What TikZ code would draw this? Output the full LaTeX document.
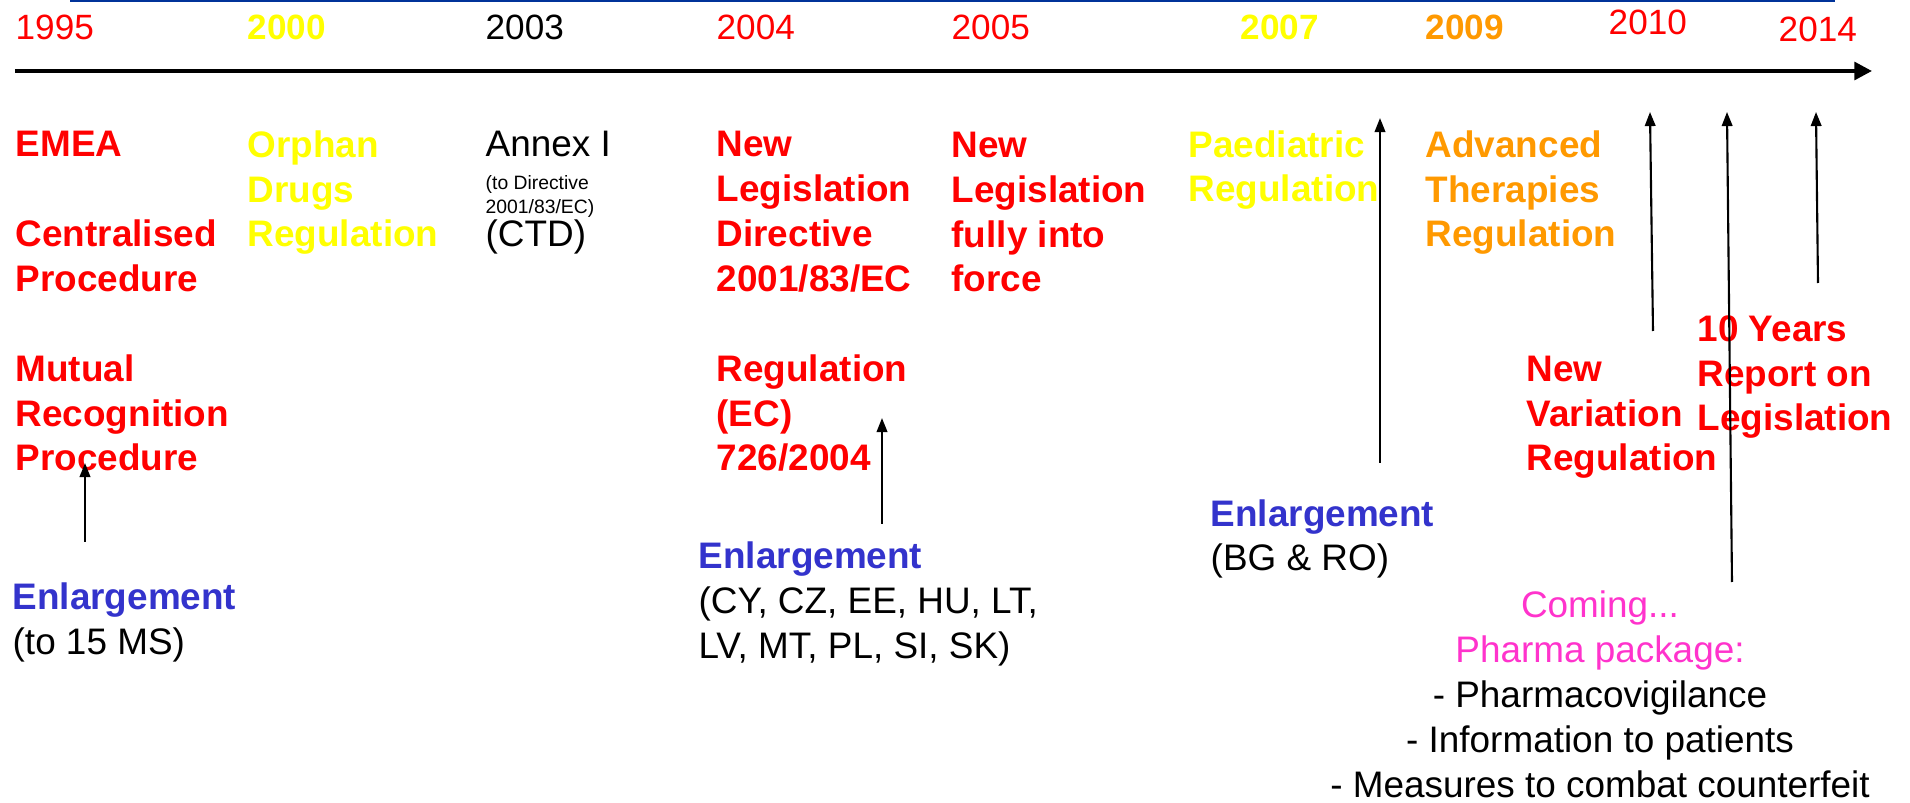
\documentclass[tikz,border=0pt]{standalone}
\usepackage{fontspec}
\setmainfont{Liberation Sans}
\usetikzlibrary{arrows.meta}
\definecolor{eured}{HTML}{FF0000}
\definecolor{euyellow}{HTML}{FFFF00}
\definecolor{euorange}{HTML}{FF9900}
\definecolor{eublue}{HTML}{3333CC}
\definecolor{eupink}{HTML}{FF33CC}
\definecolor{topblue}{HTML}{003399}
\tikzset{
	yearstyle/.style={anchor=base west, inner sep=0pt, font=\fontsize{10}{12}\selectfont},
	boldyearstyle/.style={yearstyle, font=\bfseries\fontsize{10}{12}\selectfont},
	eventstyle/.style={anchor=base west, inner sep=0pt, align=left, font=\bfseries\fontsize{10.5}{12.8}\selectfont},
	notestyle/.style={anchor=base west, inner sep=0pt, align=left, font=\fontsize{10.5}{12.8}\selectfont},
	smallstyle/.style={anchor=base west, inner sep=0pt, align=left, font=\fontsize{5.5}{7}\selectfont},
	uparrow/.style={-{Triangle[length=4pt,width=3pt]}, line width=0.6pt}
}

\begin{document}
\begin{tikzpicture}
	\useasboundingbox (0,0) rectangle (19.10,8.02);
	\draw[topblue, line width=0.6pt] (0.70,8.01)--(18.35,8.01);
	% time axis
	\coordinate (axisstart) at (0.15,7.31);
	\coordinate (axisend) at (18.72,7.31);
	\draw[line width=1.1pt, -{Triangle[length=5pt,width=5pt]}] (axisstart)--(axisend);
	% years
	\node[yearstyle, eured] (y1995) at (0.15,7.62) {1995};
	\node[boldyearstyle, euyellow] (y2000) at (2.47,7.62) {2000};
	\node[yearstyle] (y2003) at (4.85,7.62) {2003};
	\node[yearstyle, eured] (y2004) at (7.16,7.62) {2004};
	\node[yearstyle, eured] (y2005) at (9.51,7.62) {2005};
	\node[boldyearstyle, euyellow] (y2007) at (12.40,7.62) {2007};
	\node[boldyearstyle, euorange] (y2009) at (14.25,7.62) {2009};
	\node[yearstyle, eured] (y2010) at (16.08,7.67) {2010};
	\node[yearstyle, eured] (y2014) at (17.78,7.60) {2014};
	% events (placed at the baseline of their last line)
	\node[eventstyle, eured] (emea) at (0.15,3.31) {EMEA\\[12.8pt]Centralised\\Procedure\\[12.8pt]Mutual\\Recognition\\Procedure};
	\node[eventstyle, euyellow] (orphan) at (2.47,5.55) {Orphan\\Drugs\\Regulation};
	\node[notestyle] (annex) at (4.85,6.45) {Annex I};
	\node[smallstyle] (annexnote) at (4.85,5.88) {(to Directive\\2001/83/EC)};
	\node[notestyle] (ctd) at (4.85,5.55) {(CTD)};
	\node[eventstyle, eured] (newleg) at (7.16,3.31) {New\\Legislation\\Directive\\2001/83/EC\\[12.8pt]Regulation\\(EC)\\726/2004};
	\node[eventstyle, eured] (inforce) at (9.51,5.10) {New\\Legislation\\fully into\\force};
	\node[eventstyle, euyellow] (paed) at (11.88,6.00) {Paediatric\\Regulation};
	\node[eventstyle, euorange] (atmp) at (14.25,5.55) {Advanced\\Therapies\\Regulation};
	\node[eventstyle, eured] (variation) at (15.26,3.31) {New\\Variation\\Regulation};
	\node[eventstyle, eured] (report) at (16.97,3.71) {10 Years\\Report on\\Legislation};
	% enlargements
	\node[notestyle] (enl1) at (0.12,1.48) {\textcolor{eublue}{\bfseries Enlargement}\\(to 15 MS)};
	\node[notestyle] (enl2) at (6.98,1.44) {\textcolor{eublue}{\bfseries Enlargement}\\(CY, CZ, EE, HU, LT,\\LV, MT, PL, SI, SK)};
	\node[notestyle] (enl3) at (12.10,2.31) {\textcolor{eublue}{\bfseries Enlargement}\\(BG \& RO)};
	\node[notestyle, anchor=base, align=center] (pharma) at (16.00,0.05) {\textcolor{eupink}{Coming...}\\\textcolor{eupink}{Pharma package:}\\- Pharmacovigilance\\- Information to patients\\- Measures to combat counterfeit};
	% arrows
	\coordinate (a1s) at (0.85,2.60);
	\coordinate (a1e) at (0.85,3.39);
	\coordinate (a2s) at (8.82,2.78);
	\coordinate (a2e) at (8.82,3.84);
	\coordinate (a3s) at (13.80,3.39);
	\coordinate (a3e) at (13.80,6.84);
	\coordinate (a4s) at (16.53,4.71);
	\coordinate (a4e) at (16.50,6.90);
	\coordinate (a5s) at (17.32,2.20);
	\coordinate (a5e) at (17.27,6.90);
	\coordinate (a6s) at (18.18,5.19);
	\coordinate (a6e) at (18.16,6.90);
	\draw[uparrow] (a1s)--(a1e);
	\draw[uparrow] (a2s)--(a2e);
	\draw[uparrow] (a3s)--(a3e);
	\draw[uparrow] (a4s)--(a4e);
	\draw[uparrow] (a5s)--(a5e);
	\draw[uparrow] (a6s)--(a6e);
\end{tikzpicture}
\end{document}
